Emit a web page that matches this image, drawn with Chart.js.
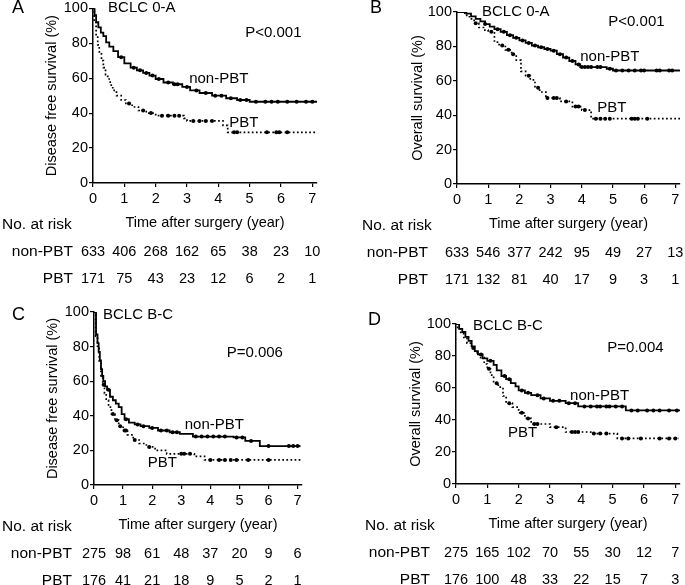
<!DOCTYPE html>
<html>
<head>
<meta charset="utf-8">
<script src="https://cdn.jsdelivr.net/npm/chart.js@4"></script>
<style>
  body { margin: 0; background: #fff; }
  .panel { position: absolute; }
</style>
</head>
<body>
<canvas id="chartA" class="panel"></canvas>
<canvas id="chartB" class="panel"></canvas>
<canvas id="chartC" class="panel"></canvas>
<canvas id="chartD" class="panel"></canvas>
<script>
// ===== Shared axis values =====
const years = [0, 1, 2, 3, 4, 5, 6, 7];
const yTicks = [0, 20, 40, 60, 80, 100];

// ===== A: BCLC 0-A, disease free survival =====
const aNonPBT = [[0,100],[0.05,96],[0.1,92],[0.17,89],[0.25,86],[0.33,84],[0.42,80.5],[0.52,78],[0.65,75.5],[0.8,72],[1.0,68.5],[1.2,66],[1.4,64.5],[1.6,63],[1.8,61.5],[2.0,59.5],[2.25,57.5],[2.55,56.5],[2.85,55],[3.1,53],[3.4,51.5],[3.8,50],[4.25,48.5],[4.6,47.5],[5.0,46.5],[7.15,46.5]];
const aPBT = [[0,100],[0.04,92],[0.1,84],[0.15,79],[0.2,75],[0.27,70],[0.33,66],[0.4,62],[0.47,59.5],[0.55,56],[0.63,53],[0.75,50],[0.9,47.5],[1.05,45.5],[1.25,43.5],[1.45,41.5],[1.7,40],[2.0,38.5],[2.9,37],[3.0,35.5],[4.15,33],[4.3,29],[7.15,29]];
const aNonCens = [[0.9,72],[1.3,66],[1.5,64.5],[1.7,63],[1.9,61.5],[2.1,59.5],[2.4,57.5],[2.6,56.5],[2.7,56.5],[3.0,55],[3.3,53],[3.6,51.5],[3.9,50],[4.1,50],[4.4,48.5],[4.7,47.5],[4.9,47.5],[5.2,46.5],[5.5,46.5],[5.7,46.5],[5.9,46.5],[6.2,46.5],[6.5,46.5],[6.8,46.5],[7.0,46.5]];
const aPbtCens = [[1.15,45.5],[1.6,41.5],[1.85,40],[2.2,38.5],[2.4,38.5],[2.6,38.5],[2.75,38.5],[3.2,35.5],[3.4,35.5],[3.6,35.5],[3.8,35.5],[4.5,29],[4.6,29],[5.55,29],[5.85,29],[5.95,29],[6.2,29]];
const aRiskNon = [633, 406, 268, 162, 65, 38, 23, 10];
const aRiskPbt = [171, 75, 43, 23, 12, 6, 2, 1];

// ===== B: BCLC 0-A, overall survival =====
const bNonPBT = [[0,100],[0.3,99],[0.45,97.5],[0.6,96],[0.75,94.5],[0.9,93],[1.05,91.5],[1.2,90],[1.4,88.5],[1.6,86.5],[1.8,85],[2.0,83.5],[2.2,82],[2.4,80.5],[2.6,79.5],[2.8,78.5],[3.0,77.5],[3.2,75.5],[3.4,73.5],[3.6,71.5],[3.8,69.5],[3.95,68],[4.8,67],[5.0,66],[7.15,66]];
const bPBT = [[0,100],[0.25,98],[0.4,96],[0.55,93.5],[0.7,91],[0.85,89.5],[1.0,88.5],[1.2,82.5],[1.35,80.5],[1.55,78],[1.75,75.5],[1.9,72],[2.05,65.5],[2.2,63],[2.35,60.5],[2.5,56],[2.65,53.5],[2.85,50],[3.3,48],[3.7,45],[4.0,43],[4.3,38],[7.15,38]];
const bNonCens = [[0.9,93],[1.3,90],[1.5,88.5],[1.7,86.5],[1.9,85],[2.1,83.5],[2.3,82],[2.5,80.5],[2.7,79.5],[2.9,78.5],[3.1,77.5],[3.3,75.5],[3.5,73.5],[3.7,71.5],[3.9,69.5],[4.0,68],[4.1,68],[4.2,68],[4.3,68],[4.5,68],[4.6,68],[4.9,67],[5.1,66],[5.3,66],[5.5,66],[5.7,66],[5.9,66],[6.0,66],[6.4,66],[6.5,66],[6.8,66],[6.9,66]];
const bPbtCens = [[0.6,93.5],[1.1,88.5],[1.45,80.5],[1.65,78],[1.8,75.5],[2.3,63],[2.6,56],[2.9,50],[3.1,50],[3.2,50],[3.5,48],[3.8,45],[3.9,45],[4.1,43],[4.45,38],[4.6,38],[4.75,38],[4.9,38],[5.6,38],[5.7,38],[5.8,38],[6.1,38]];
const bRiskNon = [633, 546, 377, 242, 95, 49, 27, 13];
const bRiskPbt = [171, 132, 81, 40, 17, 9, 3, 1];

// ===== C: BCLC B-C, disease free survival =====
const cNonPBT = [[0,100],[0.07,87],[0.12,82],[0.16,77],[0.2,72],[0.24,67],[0.28,63],[0.32,60],[0.38,57],[0.45,55],[0.55,51],[0.65,49],[0.75,47],[0.85,45],[0.95,41],[1.05,38],[1.2,36],[1.4,35],[1.6,34],[1.9,33],[2.2,31.5],[2.6,30.5],[2.95,29.5],[3.4,28],[4.8,27.5],[5.2,25.5],[5.7,22.5],[7.1,22.5]];
const cPBT = [[0,100],[0.06,86],[0.12,79],[0.18,71],[0.24,63],[0.3,58],[0.36,53],[0.42,49],[0.5,45],[0.6,41],[0.72,37.5],[0.85,34],[1.0,31.5],[1.15,29],[1.35,26],[1.55,24],[1.8,22],[2.1,20],[2.5,18],[3.45,16.5],[3.8,14.5],[7.1,14.5]];
const cNonCens = [[0.5,55],[1.1,38],[1.5,35],[1.7,34],[2.0,33],[2.3,31.5],[2.5,31.5],[2.7,30.5],[2.85,30.5],[3.5,28],[3.7,28],[3.9,28],[4.1,28],[4.3,28],[4.5,28],[4.9,27.5],[5.1,27.5],[5.4,25.5],[6.0,22.5],[6.7,22.5],[6.85,22.5],[7.0,22.5]];
const cPbtCens = [[0.33,58],[0.65,41],[0.78,37.5],[0.9,34],[1.05,31.5],[1.1,31.5],[1.4,26],[1.9,22],[3.0,18],[3.1,18],[3.3,18],[4.0,14.5],[4.3,14.5],[4.5,14.5],[4.7,14.5],[4.9,14.5],[5.3,14.5],[6.0,14.5]];
const cRiskNon = [275, 98, 61, 48, 37, 20, 9, 6];
const cRiskPbt = [176, 41, 21, 18, 9, 5, 2, 1];

// ===== D: BCLC B-C, overall survival =====
const dNonPBT = [[0,100],[0.1,97],[0.2,95],[0.3,92],[0.4,89.5],[0.5,86],[0.6,83],[0.7,81],[0.85,78.5],[1.0,77],[1.2,74.5],[1.3,71],[1.45,67.5],[1.6,65.5],[1.75,63],[1.9,61],[2.0,58.5],[2.2,57],[2.4,55.5],[2.7,53.5],[3.0,52],[3.5,50.5],[3.9,48.5],[5.42,46],[7.15,46]];
const dPBT = [[0,100],[0.05,97],[0.15,94],[0.25,91],[0.35,88],[0.5,85],[0.6,82],[0.75,79],[0.9,75],[1.0,72],[1.1,68],[1.2,63],[1.35,60.5],[1.5,55],[1.6,50.5],[1.8,48],[2.0,44.5],[2.2,41],[2.4,37.5],[3.0,35.5],[3.5,32.5],[4.3,31.5],[5.15,28.5],[7.1,28.5]];
const dNonCens = [[0.8,81],[1.1,77],[1.55,67.5],[1.7,65.5],[2.1,58.5],[2.3,57],[2.6,55.5],[2.8,53.5],[3.1,52],[3.3,52],[3.6,50.5],[3.8,50.5],[4.1,48.5],[4.3,48.5],[4.5,48.5],[4.6,48.5],[4.8,48.5],[4.9,48.5],[5.1,48.5],[5.3,48.5],[5.6,46],[5.8,46],[6.1,46],[6.3,46],[6.5,46],[6.8,46],[7.05,46]];
const dPbtCens = [[0.55,85],[1.05,72],[1.3,63],[1.7,50.5],[2.1,44.5],[2.3,41],[2.5,37.5],[2.6,37.5],[3.2,35.5],[3.7,32.5],[3.8,32.5],[3.9,32.5],[4.4,31.5],[4.6,31.5],[4.8,31.5],[5.3,28.5],[5.5,28.5],[5.9,28.5],[6.5,28.5],[6.8,28.5],[7.0,28.5]];
const dRiskNon = [275, 165, 102, 70, 55, 30, 12, 7];
const dRiskPbt = [176, 100, 48, 33, 22, 15, 7, 3];

const FONT = '"Liberation Sans", Arial, Helvetica, sans-serif';
const X_AXIS_H = 50;

// panel layout: box = [left, top, width, height] on page,
// area = [chart left, chart top, right padding, chart bottom] inside the canvas
const panels = [
  { id: "chartA", letter: "A", group: "BCLC 0-A", pText: "P<0.001", yTitle: "Disease free survival (%)",
    non: aNonPBT, pbt: aPBT, nonCens: aNonCens, pbtCens: aPbtCens, riskNon: aRiskNon, riskPbt: aRiskPbt,
    box: [0, 0, 342, 290], area: [93, 7, 25, 183], yTitleX: 52, letterXY: [12, 8], noRiskX: 2, rowRight: 73,
    notes: { group: [0.48, 100], p: [4.86, 86], non: [3.07, 59.7], pbt: [4.35, 34.7] } },
  { id: "chartB", letter: "B", group: "BCLC 0-A", pText: "P<0.001", yTitle: "Overall survival (%)",
    non: bNonPBT, pbt: bPBT, nonCens: bNonCens, pbtCens: bPbtCens, riskNon: bRiskNon, riskPbt: bRiskPbt,
    box: [342, 0, 343, 290], area: [115, 12, 5, 184], yTitleX: 76, letterXY: [28, 8], noRiskX: 20, rowRight: 86,
    notes: { group: [0.8, 100], p: [4.85, 94.2], non: [3.95, 73.8], pbt: [4.5, 44.2] } },
  { id: "chartC", letter: "C", group: "BCLC B-C", pText: "P=0.006", yTitle: "Disease free survival (%)",
    non: cNonPBT, pbt: cPBT, nonCens: cNonCens, pbtCens: cPbtCens, riskNon: cRiskNon, riskPbt: cRiskPbt,
    box: [0, 290, 342, 295], area: [94, 22, 40, 195], yTitleX: 53, letterXY: [12, 25], noRiskX: 2, rowRight: 72,
    notes: { group: [0.31, 98.3], p: [4.56, 76.3], non: [3.12, 34.7], pbt: [1.85, 12.7] } },
  { id: "chartD", letter: "D", group: "BCLC B-C", pText: "P=0.004", yTitle: "Overall survival (%)",
    non: dNonPBT, pbt: dPBT, nonCens: dNonCens, pbtCens: dPbtCens, riskNon: dRiskNon, riskPbt: dRiskPbt,
    box: [342, 290, 343, 295], area: [114, 34, 5, 194], yTitleX: 74, letterXY: [26, 30], noRiskX: 23, rowRight: 88,
    notes: { group: [0.54, 98.8], p: [4.83, 85], non: [3.64, 55], pbt: [1.66, 31.9] } }
];

Chart.defaults.font.family = FONT;
Chart.defaults.color = "#000";

const toXY = pairs => pairs.map(([x, y]) => ({ x: x, y: y }));

// ===== Text drawn on top: panel letter, labels, risk table =====
function notesPlugin(p) {
  return {
    id: "kmNotes",
    afterDraw(chart) {
      const ctx = chart.ctx;
      const xs = chart.scales.x, ys = chart.scales.y, area = chart.chartArea;
      ctx.save();
      ctx.fillStyle = "#000";
      ctx.textBaseline = "middle";
      ctx.textAlign = "left";
      ctx.font = "18px " + FONT;
      ctx.fillText(p.letter, p.letterXY[0], p.letterXY[1]);

      ctx.font = "15px " + FONT;
      const put = (txt, pos) => ctx.fillText(txt, xs.getPixelForValue(pos[0]), ys.getPixelForValue(pos[1]));
      put(p.group, p.notes.group);
      put(p.pText, p.notes.p);
      put("non-PBT", p.notes.non);
      put("PBT", p.notes.pbt);

      // risk table
      ctx.font = "15.5px " + FONT;
      ctx.fillText("No. at risk", p.noRiskX, area.bottom + 42);
      ctx.textAlign = "right";
      ctx.fillText("non-PBT", p.rowRight, area.bottom + 69);
      ctx.fillText("PBT", p.rowRight, area.bottom + 95.5);
      ctx.font = "14.5px " + FONT;
      ctx.textAlign = "center";
      years.forEach((yr, i) => {
        const x = xs.getPixelForValue(yr);
        ctx.fillText(String(p.riskNon[i]), x, area.bottom + 69);
        ctx.fillText(String(p.riskPbt[i]), x, area.bottom + 95.5);
      });
      ctx.restore();
    }
  };
}

panels.forEach(p => {
  const canvas = document.getElementById(p.id);
  canvas.width = p.box[2];
  canvas.height = p.box[3];
  canvas.style.left = p.box[0] + "px";
  canvas.style.top = p.box[1] + "px";
  canvas.style.width = p.box[2] + "px";
  canvas.style.height = p.box[3] + "px";

  new Chart(canvas.getContext("2d"), {
    type: "line",
    data: {
      datasets: [
        { label: "non-PBT", data: toXY(p.non), stepped: true, borderColor: "#000", borderWidth: 1.8, pointRadius: 0, fill: false },
        { label: "PBT", data: toXY(p.pbt), stepped: true, borderColor: "#000", borderWidth: 1.7, borderDash: [1.7, 2.4], pointRadius: 0, fill: false },
        { label: "non-PBT censored", data: toXY(p.nonCens), showLine: false, pointRadius: 2, pointBackgroundColor: "#000", pointBorderWidth: 0 },
        { label: "PBT censored", data: toXY(p.pbtCens), showLine: false, pointRadius: 2, pointBackgroundColor: "#000", pointBorderWidth: 0 }
      ]
    },
    options: {
      responsive: false,
      animation: false,
      events: [],
      layout: {
        padding: { left: 0, top: p.area[1], right: p.area[2], bottom: p.box[3] - p.area[3] - X_AXIS_H }
      },
      plugins: { legend: { display: false }, tooltip: { enabled: false } },
      scales: {
        x: {
          type: "linear", min: 0, max: 7.15,
          afterBuildTicks: s => { s.ticks = years.map(v => ({ value: v })); },
          afterFit: s => { s.height = X_AXIS_H; },
          ticks: { font: { size: 14.5, lineHeight: 1 }, padding: 5, maxRotation: 0, autoSkip: false },
          grid: { display: true, drawOnChartArea: false, drawTicks: true, tickLength: 4, color: "#000", lineWidth: 1.2 },
          border: { display: true, color: "#000", width: 1.5 },
          title: { display: true, text: "Time after surgery (year)", font: { size: 14.5 }, padding: { top: 0, bottom: 1.5 } }
        },
        y: {
          min: 0, max: 100,
          afterBuildTicks: s => { s.ticks = yTicks.map(v => ({ value: v })); },
          afterFit: s => { s.width = p.area[0]; },
          ticks: { font: { size: 14.5, lineHeight: 1 }, padding: 1 },
          grid: { display: true, drawOnChartArea: false, drawTicks: true, tickLength: 4, color: "#000", lineWidth: 1.2 },
          border: { display: true, color: "#000", width: 1.5 },
          title: { display: true, text: p.yTitle, font: { size: 14.5 }, padding: { top: p.yTitleX - 8.7, bottom: 0 } }
        }
      }
    },
    plugins: [notesPlugin(p)]
  });
});
</script>
</body>
</html>
